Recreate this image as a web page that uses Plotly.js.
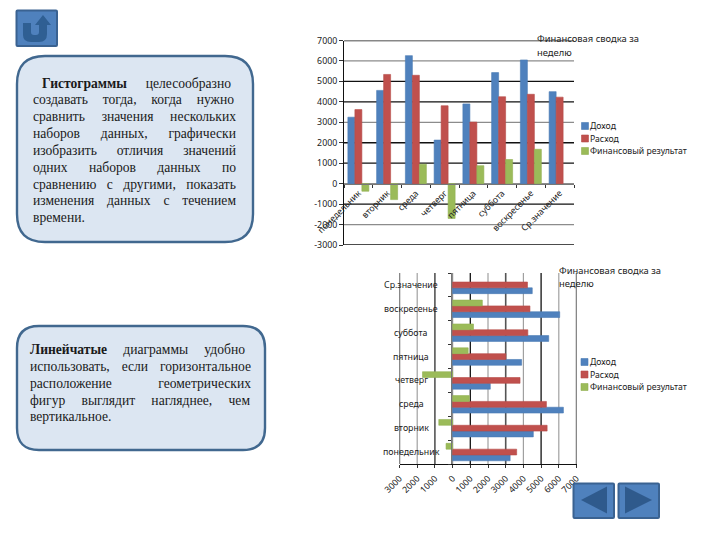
<!DOCTYPE html>
<html><head><meta charset="utf-8">
<script src="https://cdn.plot.ly/plotly-3.0.1.min.js"></script>
<style>
html,body{margin:0;padding:0;background:#fff}
#wrap{position:relative;width:720px;height:540px;overflow:hidden}
#chart{position:absolute;left:0;top:0;width:720px;height:540px}
.txt{position:absolute;font-family:"Liberation Serif",serif;color:#1a1a1a;font-size:13.6px;pointer-events:none}
.txt div{text-align:justify;text-align-last:justify;white-space:nowrap;height:16.85px;line-height:16.85px}
.txt div.last{text-align-last:left}
</style></head><body>
<div id="wrap">
<div id="chart"></div>
<div class="txt" id="t1" style="left:33px;top:75.5px;width:203px"></div>
<div class="txt" id="t2" style="left:30px;top:342px;width:221px"></div>
</div>
<script>
const categories=["понедельник","вторник","среда","четверг","пятница","суббота","воскресенье","Ср.значение"];
const income=[3250,4560,6260,2130,3900,5430,6050,4500];
const expense=[3620,5340,5300,3810,3010,4250,4370,4230];
const result=[-370,-780,950,-1700,880,1180,1680,null];
const seriesNames=["Доход","Расход","Финансовый результат"];
const seriesColors=["#4f81bd","#c0504d","#9bbb59"];
const seriesBorders=["#4a7ab3","#b54b48","#92b053"];
const valueTicks=[-3000,-2000,-1000,0,1000,2000,3000,4000,5000,6000,7000];
const valueLabels=["-3000","-2000","-1000","0","1000","2000","3000","4000","5000","6000","7000"];
const xValueLabels=["3000","2000","1000","0","1000","2000","3000","4000","5000","6000","7000"];
const topDarkGrid=[7000,5000,4000,2000,1000,-1000,-3000];
const topGrayGrid=[6000,3000,-2000];
const botDarkGrid=[-3000,1000,5000,7000];
const botMidGrid=[-1000,3000];
const botGrayGrid=[-2000,2000,4000,6000];
const chartTitle=["Финансовая сводка за","неделю"];
const para1=[["<b>Гистограммы</b> целесообразно",9,5],["создавать тогда, когда нужно",0,2],["сравнить значения нескольких"],["наборов данных, графически"],["изобразить отличия значений"],["одних наборов данных по"],["сравнению с другими, показать"],["изменения данных с течением"],["времени."]];
const para2=[["<b>Линейчатые</b> диаграммы удобно",0,6],["использовать, если горизонтальное"],["расположение геометрических"],["фигур выглядит нагляднее, чем",0,1],["вертикальное."]];

const W=720,H=540;
const px=v=>v/W, py=v=>1-v/H;
const P=(x,y)=>px(x).toFixed(5)+','+py(y).toFixed(5);
function roundRect(x0,y0,x1,y1,r){
  return 'M'+P(x0+r,y0)+' L'+P(x1-r,y0)+' Q'+P(x1,y0)+' '+P(x1,y0+r)+' L'+P(x1,y1-r)+' Q'+P(x1,y1)+' '+P(x1-r,y1)+' L'+P(x0+r,y1)+' Q'+P(x0,y1)+' '+P(x0,y1-r)+' L'+P(x0,y0+r)+' Q'+P(x0,y0)+' '+P(x0+r,y0)+' Z';
}
function poly(pts){return 'M'+pts.map(p=>P(p[0],p[1])).join(' L')+' Z';}
const shapes=[];
function paperShape(path,fill,lineColor,lw){shapes.push({type:'path',xref:'paper',yref:'paper',path:path,fillcolor:fill,line:{color:lineColor,width:lw},layer:'above'});}
function hline(v,color,w,ya,xa){shapes.push({type:'line',xref:xa+' domain',yref:ya,x0:0,x1:1,y0:v,y1:v,line:{color:color,width:w},layer:'below'});}
function vline(v,color,w,ya,xa){shapes.push({type:'line',xref:xa,yref:ya+' domain',y0:0,y1:1,x0:v,x1:v,line:{color:color,width:w},layer:'below'});}
topGrayGrid.forEach(v=>hline(v,'#8c8c8c',1.2,'y','x'));
hline(0,'#8c8c8c',1.2,'y','x');
topDarkGrid.forEach(v=>hline(v,'#111',1.3,'y','x'));
botGrayGrid.forEach(v=>vline(v,'#a0a0a0',1.2,'y2','x2'));
botMidGrid.forEach(v=>vline(v,'#555',1.6,'y2','x2'));
botDarkGrid.forEach(v=>vline(v,'#111',1.3,'y2','x2'));
vline(0,'#8c8c8c',1.2,'y2','x2');
// text boxes
paperShape(roundRect(17,56,253,242,28),'#dce6f2','#41688f',2.4);
paperShape(roundRect(17,326,265,450,22),'#dce6f2','#41688f',2.4);
// buttons
paperShape(roundRect(16.5,10.5,57,46,1),'#4f81bd','#3a6291',2);
paperShape(roundRect(573.5,483.5,614,518,1),'#4f81bd','#3a6291',2);
paperShape(roundRect(618.5,483.5,659,518,1),'#4f81bd','#3a6291',2);
paperShape(poly([[581,500],[607,486.5],[607,513.5]]),'#2f5a8c','#2f5a8c',0);
paperShape(poly([[625,486.5],[652,500],[625,513.5]]),'#2f5a8c','#2f5a8c',0);
paperShape('M'+P(23,23)+' L'+P(23,35)+' Q'+P(23,42)+' '+P(31,42)+' L'+P(39,42)+' Q'+P(47,42)+' '+P(47,34)+' L'+P(47,25)+' L'+P(51,25)+' L'+P(43,15)+' L'+P(35,25)+' L'+P(39,25)+' L'+P(39,32)+' Q'+P(39,35)+' '+P(36,35)+' L'+P(34,35)+' Q'+P(31,35)+' '+P(31,32)+' L'+P(31,23)+' Z','#2f5f93','#2f5f93',0);

const traces=[];
[income,expense,result].forEach((vals,i)=>{
  traces.push({type:'bar',name:seriesNames[i],x:categories,y:vals,xaxis:'x',yaxis:'y',
    marker:{color:seriesColors[i],line:{color:seriesBorders[i],width:0.6}}});
});
[income,expense,result].forEach((vals,i)=>{
  traces.push({type:'bar',orientation:'h',name:seriesNames[i],y:categories,x:vals,xaxis:'x2',yaxis:'y2',
    marker:{color:seriesColors[i],line:{color:seriesBorders[i],width:0.6}}});
});
const family='"Noto Sans",sans-serif';
const font={family:family,size:8.8,color:'#222'};
const annotations=[];
chartTitle.forEach((t,i)=>{
  annotations.push({xref:'paper',yref:'paper',x:px(536.5),y:py(39+i*13.5),text:t,showarrow:false,xanchor:'left',yanchor:'middle',xshift:-2,font:{family:family,size:9.4,color:'#222'}});
  annotations.push({xref:'paper',yref:'paper',x:px(558.5),y:py(270+i*13),text:t,showarrow:false,xanchor:'left',yanchor:'middle',xshift:-2,font:{family:family,size:9.4,color:'#222'}});
});
categories.forEach(c=>{
  annotations.push({xref:'paper',yref:'y2',x:px(411),y:c,text:c,showarrow:false,xanchor:'center',yanchor:'middle',font:font});
});
// hand-placed legends: the library's own legend cannot be set this tight
[[126,581.5],[362,581]].forEach(pos=>{
  seriesNames.forEach((n,i)=>{
    const cy=pos[0]+i*12.5, x0=pos[1];
    paperShape(poly([[x0,cy-3.5],[x0+7,cy-3.5],[x0+7,cy+3.5],[x0,cy+3.5]]),seriesColors[i],seriesBorders[i],0.6);
    annotations.push({xref:'paper',yref:'paper',x:px(590),y:py(cy),text:n,showarrow:false,xanchor:'left',yanchor:'middle',xshift:-2,font:{family:family,size:8.7,color:'#222'}});
  });
});
const topTop=40.5,topBot=245,zeroTop=py(topTop+(topBot-topTop)*0.7);
const layout={width:W,height:H,margin:{l:0,r:0,t:0,b:0},paper_bgcolor:'#fff',plot_bgcolor:'rgba(0,0,0,0)',
  barmode:'group',bargap:0.27,showlegend:false,font:font,shapes:shapes,annotations:annotations,
  xaxis:{domain:[px(344),px(574)],anchor:'free',position:zeroTop,type:'category',categoryorder:'array',categoryarray:categories,
    tickson:'boundaries',ticks:'outside',ticklen:3,tickcolor:'#333',showline:true,linecolor:'#777',showgrid:false,zeroline:false,tickangle:-45,tickfont:font,automargin:false},
  yaxis:{domain:[py(topBot),py(topTop)],range:[-3000,7000],tickvals:valueTicks,ticktext:valueLabels,showgrid:false,zeroline:false,showline:true,linecolor:'#111',ticks:'outside',ticklen:4,tickcolor:'#333',tickfont:font,automargin:false,anchor:'x',side:'left'},
  xaxis2:{domain:[px(399.5),px(576.5)],range:[-3000,7000],tickvals:valueTicks,ticktext:xValueLabels,showgrid:false,zeroline:false,showline:true,linecolor:'#111',ticks:'outside',ticklen:3,tickcolor:'#333',tickangle:-45,ticklabelstandoff:2,tickfont:font,anchor:'y2',automargin:false},
  yaxis2:{domain:[py(464),py(273)],type:'category',categoryorder:'array',categoryarray:categories,anchor:'free',position:px(450.5),tickson:'boundaries',ticks:'outside',ticklen:3,tickcolor:'#333',showticklabels:false,showline:true,linecolor:'#777',showgrid:false,zeroline:false,automargin:false}
};
Plotly.newPlot('chart',traces,layout,{displayModeBar:false,staticPlot:true});
function fill(id,lines){const el=document.getElementById(id);lines.forEach((l,i)=>{const d=document.createElement('div');d.innerHTML=l[0];if(l[1])d.style.marginLeft=l[1]+'px';if(l[2])d.style.marginRight=l[2]+'px';if(i===lines.length-1)d.className='last';el.appendChild(d);});}
fill('t1',para1);fill('t2',para2);
</script>
</body></html>
